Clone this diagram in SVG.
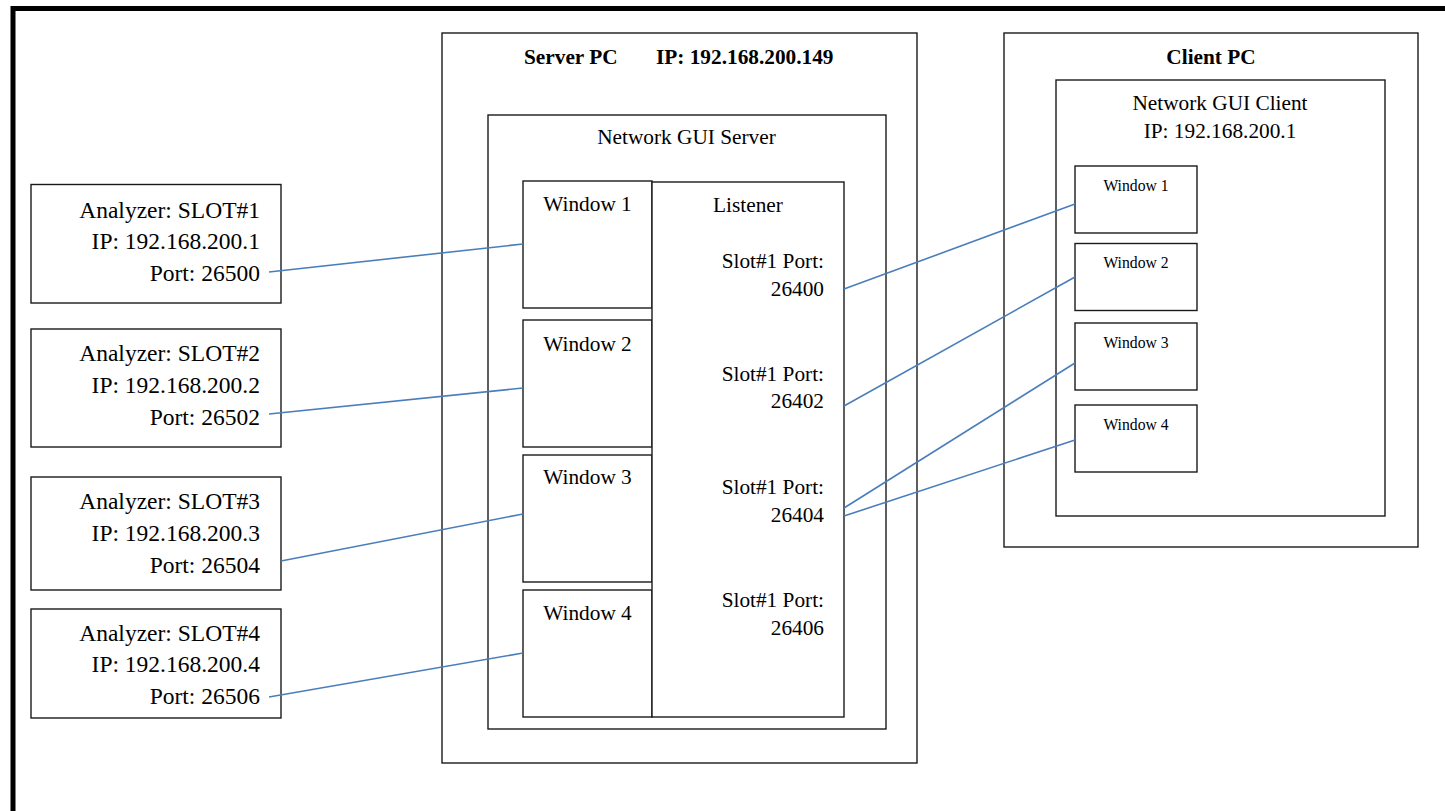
<svg xmlns="http://www.w3.org/2000/svg" width="1445" height="811" viewBox="0 0 1445 811">
<style>
.box{fill:#fff;stroke:#1a1a1a;stroke-width:1.4}
.t{font-family:"Liberation Serif","Times New Roman",serif;fill:#000}
.a{font-size:23.5px;text-anchor:end}
.m{font-size:21.3px}
.b{font-weight:bold}
.c{text-anchor:middle}
.e{text-anchor:end}
.s{font-size:15.7px;text-anchor:middle}
.ln{stroke:#4a7ebb;stroke-width:1.6;fill:none}
</style>
<rect x="0" y="0" width="1445" height="811" fill="#fff"/>
<rect id="frame" x="13" y="8.5" width="1460" height="830" fill="none" stroke="#000" stroke-width="5"/>

<g id="analyzer1">
<rect class="box" x="31" y="184.5" width="250" height="118.5"/>
<text class="t a" x="260" y="218">Analyzer: SLOT#1</text>
<text class="t a" x="260" y="249">IP: 192.168.200.1</text>
<text class="t a" x="260" y="281">Port: 26500</text>
</g>
<g id="analyzer2">
<rect class="box" x="31" y="329" width="250" height="118"/>
<text class="t a" x="260" y="361">Analyzer: SLOT#2</text>
<text class="t a" x="260" y="393">IP: 192.168.200.2</text>
<text class="t a" x="260" y="425">Port: 26502</text>
</g>
<g id="analyzer3">
<rect class="box" x="31" y="477" width="250" height="113"/>
<text class="t a" x="260" y="509">Analyzer: SLOT#3</text>
<text class="t a" x="260" y="541">IP: 192.168.200.3</text>
<text class="t a" x="260" y="573">Port: 26504</text>
</g>
<g id="analyzer4">
<rect class="box" x="31" y="609" width="250" height="109"/>
<text class="t a" x="260" y="641">Analyzer: SLOT#4</text>
<text class="t a" x="260" y="672">IP: 192.168.200.4</text>
<text class="t a" x="260" y="704">Port: 26506</text>
</g>

<g id="serverPC">
<rect class="box" x="442" y="33" width="475" height="730"/>
<text class="t m b" x="524" y="64">Server PC</text>
<text class="t m b" x="656" y="64">IP: 192.168.200.149</text>
</g>
<g id="guiServer">
<rect class="box" x="488" y="115" width="398" height="614"/>
<text class="t m c" x="686.5" y="144">Network GUI Server</text>
</g>
<g id="srvWindow1">
<rect class="box" x="523" y="181" width="129" height="127"/>
<text class="t m c" x="587.5" y="211">Window 1</text>
</g>
<g id="srvWindow2">
<rect class="box" x="523" y="320" width="129" height="127"/>
<text class="t m c" x="587.5" y="351">Window 2</text>
</g>
<g id="srvWindow3">
<rect class="box" x="523" y="455" width="129" height="127"/>
<text class="t m c" x="587.5" y="484">Window 3</text>
</g>
<g id="srvWindow4">
<rect class="box" x="523" y="590" width="129" height="127"/>
<text class="t m c" x="587.5" y="620">Window 4</text>
</g>
<g id="listener">
<rect class="box" x="652" y="182" width="192" height="535"/>
<text class="t m c" x="748" y="212">Listener</text>
<text class="t m e" x="824" y="268">Slot#1 Port:</text>
<text class="t m e" x="824" y="296">26400</text>
<text class="t m e" x="824" y="381">Slot#1 Port:</text>
<text class="t m e" x="824" y="408">26402</text>
<text class="t m e" x="824" y="494">Slot#1 Port:</text>
<text class="t m e" x="824" y="522">26404</text>
<text class="t m e" x="824" y="607">Slot#1 Port:</text>
<text class="t m e" x="824" y="635">26406</text>
</g>

<g id="clientPC">
<rect class="box" x="1004" y="33" width="414" height="514"/>
<text class="t m b c" x="1211" y="64">Client PC</text>
</g>
<g id="guiClient">
<rect class="box" x="1056" y="80" width="329" height="436"/>
<text class="t m c" x="1220" y="110">Network GUI Client</text>
<text class="t m c" x="1220" y="138">IP: 192.168.200.1</text>
</g>
<g id="cliWindow1">
<rect class="box" x="1075" y="166" width="122" height="67"/>
<text class="t s" x="1136" y="191">Window 1</text>
</g>
<g id="cliWindow2">
<rect class="box" x="1075" y="243.5" width="122" height="67"/>
<text class="t s" x="1136" y="268">Window 2</text>
</g>
<g id="cliWindow3">
<rect class="box" x="1075" y="323" width="122" height="67"/>
<text class="t s" x="1136" y="348">Window 3</text>
</g>
<g id="cliWindow4">
<rect class="box" x="1075" y="405" width="122" height="67"/>
<text class="t s" x="1136" y="430">Window 4</text>
</g>

<g id="connectors">
<line class="ln" x1="269" y1="272" x2="523" y2="244"/>
<line class="ln" x1="269" y1="414" x2="523" y2="388"/>
<line class="ln" x1="281" y1="561" x2="523" y2="514"/>
<line class="ln" x1="269" y1="697" x2="523" y2="653"/>
<line class="ln" x1="844" y1="289" x2="1075" y2="204"/>
<line class="ln" x1="844" y1="406" x2="1075" y2="277"/>
<line class="ln" x1="844" y1="508" x2="1075" y2="363"/>
<line class="ln" x1="844" y1="516" x2="1075" y2="440"/>
</g>
</svg>
